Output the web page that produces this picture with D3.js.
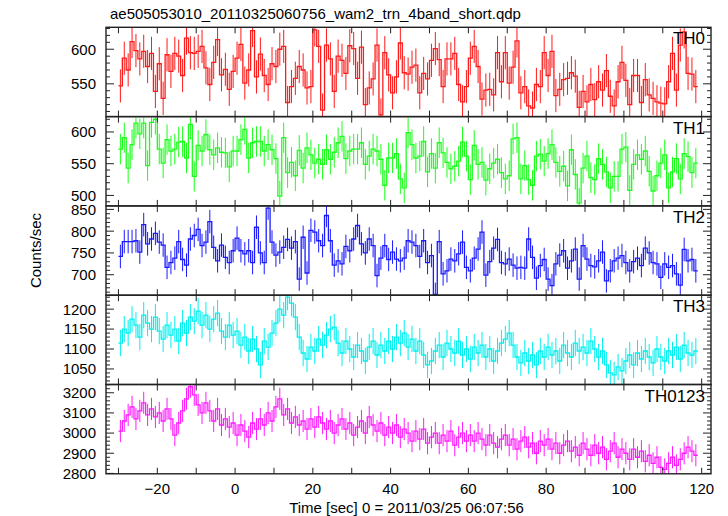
<!DOCTYPE html>
<html><head><meta charset="utf-8">
<script src="https://cdn.jsdelivr.net/npm/d3@7"></script>
<style>
body{margin:0;background:#fff}
svg{display:block}
text{font-family:"Liberation Sans",Arial,Helvetica,sans-serif;fill:#000}
</style>
</head><body>
<svg id="chart" width="728" height="516"></svg>
<script>
// ---- data (1-s bins, first bin centred at -29.5 s) ----
const th0 = [547,587,570,611,598,586,597,575,594,539, 579,529,592,568,594,590,562,616,595,594,
 597,604,573,549,581,614,563,571,542,568, 587,607,551,570,627,560,593,562,549,579,
 575,600,604,523,546,558,575,570,544,
 546,628,604,512,606,586,539,590,584,565, 605,601,558,603,520,544,557,606,505,595,
 563,537,560,609,566,564,574,577,537,565, 557,584,601,585,546,586,586,594,549,524,
 546,587,604,575,528,541,542,534,595,
 553,595,551,574,612,537,546,518,515,549, 546,595,562,597,533,542,556,558,566,561,
 516,539,524,549,527,553,541,569,532,518, 553,581,555,520,562,562,523,556,534,529,
 524,522,521,553,594,541,606,625,565,564, 546];
const th1 = [573,591,543,580,614,597,614,547,615,620, 573,551,588,570,573,584,585,559,612,530,
 579,570,596,572,564,575,568,567,545,570, 570,588,604,559,583,585,585,570,580,572,
 558,499,591,536,552,531,571,543,575,564, 551,557,549,572,557,568,583,593,558,570,
 573,573,583,549,562,573,570,557,516,559, 559,566,526,512,599,
 580,559,562,585,537,566,543,583,567,552, 542,546,554,584,562,525,579,549,552,524,
 542,551,557,536,526,531,589,591,526,547, 525,516,562,565,554,566,580,552,538,546,
 515,572,533,488,543,562,528,525,558,549, 537,512,530,530,573,576,508,549,564,557,
 570,538,507,531,551,564,512,537,558,526, 566,561,536,551];
const th2 = [742,776,776,776,778,752,815,771,782,795, 775,768,717,728,738,776,735,722,782,790,
 804,767,775,822,763,732,768,740,728,755, 784,755,748,755,728,809,750,728,853,775,
 745,752,763,781,761,776,690,786,704,802, 798,778,767,836,778,722,732,725,765,755,
 782,813,771,750,782,767,698,738,767,735, 752,736,732,738,778,
 775,767,742,778,728,744,655,776,702,709, 736,732,748,775,717,709,738,759,798,699,
 730,761,781,728,725,736,722,715,717,715, 782,740,692,721,735,690,675,725,745,755,
 715,732,759,690,767,736,721,718,732,752, 686,709,732,738,744,728,709,730,738,721,
 761,750,728,725,694,725,717,721,702,676, 758,732,735,709];
const th3 = [1115,1150,1140,1175,1160,1130,1185,1165,1150,1180, 1145,1125,1160,1135,1150,1120,1165,1140,1180,1170,
 1195,1160,1185,1150,1175,1190,1145,1130,1160,1135, 1145,1110,1130,1095,1125,1100,1060,1120,1105,1140,
 1165,1200,1185,1230,1215,1180,1130,1090,1075,1105, 1095,1125,1110,1135,1150,1155,1115,1090,1120,1100,
 1080,1110,1095,1070,1105,1120,1085,1110,1095,1120, 1100,1130,1115,1140,1105,1125,1095,1120,1085,1060,
 1070,1095,1110,1080,1115,1100,1090,1120,1085,1100, 1075,1105,1090,1110,1080,1100,1070,1095,1115,1125,
 1140,1110,1080,1065,1090,1070,1085,1060,1095,1080, 1105,1085,1095,1070,1110,1090,1080,1115,1095,1105,
 1090,1120,1100,1080,1095,1060,1040,1035,1055,1045, 1070,1085,1060,1090,1075,1095,1080,1065,1100,1080,
 1070,1095,1085,1105,1075,1110,1090,1085,1095];
const th0123 = [3010,3060,3090,3130,3070,3110,3150,3090,3120,3080, 3100,3060,3120,3070,2990,3050,3110,3170,3230,3190,
 3140,3100,3150,3110,3060,3120,3040,3070,3030,3050, 2990,3040,3010,2980,3050,3020,3070,3040,3100,3060,
 3130,3170,3090,3120,3050,3080,3040,3060,3020,3070, 3030,3080,3050,3020,3060,3000,3040,3070,3020,3050,
 2990,3030,3060,3000,3080,3040,3010,3050,2990,3030, 3000,3040,2980,3020,3000,2960,3010,2970,3020,2950,
 2980,3000,2950,2990,2960,3010,2940,2980,3000,2960, 2990,2960,3000,2970,2940,2990,2950,2930,2970,2990,
 2940,2970,2920,2960,2980,2930,2950,2900,2960,2940, 2970,2920,2950,2900,2940,2960,2910,2930,2890,2950,
 2920,2890,2940,2900,2930,2870,2910,2950,2880,2920, 2900,2870,2920,2880,2910,2860,2890,2850,2880,2830,
 2820,2850,2880,2840,2870,2900,2930,2910,2890];
const binStart = -29.5, binWidth = 1;
const panelNames = ["TH0","TH1","TH2","TH3","TH0123"];
const panelColors = ["#ff1a1a","#1aff1a","#1a1aff","#00f0f0","#ff1aff"];
const errHalf = [24,24,27,33,55];
const yDomains = [[502.6,631.7],[483.5,624.2],[653,858],[1011,1235],[2798,3241]];
const yMajor = [[550,600],[500,550,600],[700,750,800,850],[1050,1100,1150,1200],[2800,2900,3000,3100,3200]];
const yMinorStep = [10,10,10,10,20];
const xTickLabels = [-20,0,20,40,60,80,100,120];
const xTickAll = [-30,-20,-10,0,10,20,30,40,50,60,70,80,90,100,110,120];
const titleText = "ae505053010_20110325060756_wam2_trn_4band_short.qdp";
const xTitle = "Time [sec] 0 = 2011/03/25 06:07:56";
const yTitle = "Counts/sec";

const series = [th0, th1, th2, th3, th0123];

// ---- layout ----
const L = 106, R = 711, T = 27.3, PH = 89.3;
const svg = d3.select("#chart");
const x = d3.scaleLinear().domain([-33.2, 122.4]).range([L, R]);

const fmtMinus = v => String(v).replace("-", "\u2212");

series.forEach((vals, p) => {
  const y0 = T + p * PH, y1 = y0 + PH;
  const y = d3.scaleLinear().domain(yDomains[p]).range([y1, y0]);
  const g = svg.append("g");
  const cid = "clip" + p;
  svg.append("clipPath").attr("id", cid).append("rect")
    .attr("x", L).attr("y", y0).attr("width", R - L).attr("height", PH);
  const data = vals.map((v, i) => ({t: binStart + i * binWidth, v}));
  const dg = g.append("g").attr("clip-path", `url(#${cid})`);
  // error bars
  dg.selectAll("line.err").data(data).enter().append("line")
    .attr("x1", d => x(d.t)).attr("x2", d => x(d.t))
    .attr("y1", d => y(d.v - errHalf[p])).attr("y2", d => y(d.v + errHalf[p]))
    .attr("stroke", panelColors[p]).attr("stroke-width", 1);
  // step line
  const pts = [];
  data.forEach(d => { pts.push([d.t - binWidth / 2, d.v]); pts.push([d.t + binWidth / 2, d.v]); });
  dg.append("path").datum(pts)
    .attr("d", d3.line().x(d => x(d[0])).y(d => y(d[1])))
    .attr("fill", "none").attr("stroke", panelColors[p]).attr("stroke-width", 1.3);

  // ticks
  const tk = g.append("g").attr("stroke", "#222").attr("stroke-width", 1);
  xTickAll.forEach(t => {
    tk.append("line").attr("x1", x(t)).attr("x2", x(t)).attr("y1", y0).attr("y2", y0 + 6);
    tk.append("line").attr("x1", x(t)).attr("x2", x(t)).attr("y1", y1 - 6).attr("y2", y1);
  });
  const [dmin, dmax] = yDomains[p];
  const minors = d3.range(Math.ceil(dmin / yMinorStep[p]) * yMinorStep[p], dmax, yMinorStep[p]);
  minors.forEach(v => {
    const maj = yMajor[p].includes(v);
    const len = maj ? 8 : 4;
    tk.append("line").attr("x1", L).attr("x2", L + len).attr("y1", y(v)).attr("y2", y(v));
    tk.append("line").attr("x1", R - len).attr("x2", R).attr("y1", y(v)).attr("y2", y(v));
  });
  // y labels
  yMajor[p].forEach(v => {
    g.append("text").attr("x", L - 10).attr("y", y(v)).attr("dy", "0.36em")
      .attr("text-anchor", "end").attr("font-size", 15).text(v);
  });
  // frame
  g.append("rect").attr("x", L).attr("y", y0).attr("width", R - L).attr("height", PH)
    .attr("fill", "none").attr("stroke", "#222").attr("stroke-width", 1.4);
  // panel name
  g.append("text").attr("x", R - 6).attr("y", y0 + 17).attr("text-anchor", "end")
    .attr("font-size", 17).text(panelNames[p]);
});

// x tick labels
const bottom = T + 5 * PH;
xTickLabels.forEach(t => {
  svg.append("text").attr("x", x(t)).attr("y", bottom + 20).attr("text-anchor", "middle")
    .attr("font-size", 15).text(fmtMinus(t));
});
svg.append("text").attr("x", (L + R) / 2 - 2).attr("y", 513).attr("text-anchor", "middle")
  .attr("font-size", 15).text(xTitle);
svg.append("text").attr("transform", `translate(41,${T + 2.5 * PH}) rotate(-90)`)
  .attr("text-anchor", "middle").attr("font-size", 15).text(yTitle);
svg.append("text").attr("x", 110).attr("y", 19).attr("font-size", 15).text(titleText);
</script>
</body></html>
